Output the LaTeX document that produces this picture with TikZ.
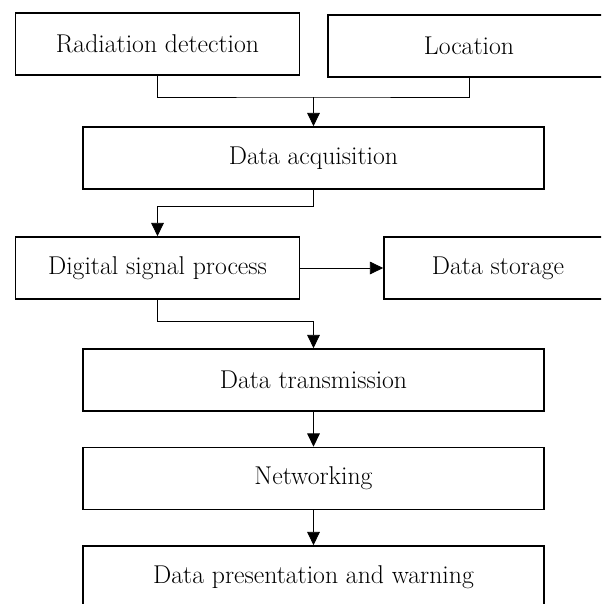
\documentclass[tikz,border=0pt]{standalone}
\usepackage{tikz}
\usetikzlibrary{arrows.meta,positioning}
\tikzset{
  flowbox/.style={
    rectangle, draw=black, line width=1.1pt,
    minimum width=#1, minimum height=1.55cm,
    font=\fontsize{18.3}{21}\selectfont, align=center, inner sep=0pt
  },
  flowbox/.default=7.1cm,
  flowline/.style={line width=0.6pt, color=black},
  flowarrow/.style={
    flowline, -{Triangle[length=9.5pt,width=9pt]}
  },
}

\begin{document}
\begin{tikzpicture}[x=0.025cm, y=-0.025cm]
  \useasboundingbox (0,0) rectangle (601,604);
  \clip (0,0) rectangle (601,604);

  % Sources
  \node[flowbox] (rad) at (157.5,44) {Radiation detection};
  \node[flowbox=7.05cm] (loc) at (469,46) {Location};

  % Main chain
  \node[flowbox=11.525cm] (acq) at (313.5,158) {Data acquisition};
  \node[flowbox] (dsp) at (157.5,268) {Digital signal process};
  \node[flowbox=5.7cm] (store) at (498,268) {Data storage};
  \node[flowbox=11.525cm] (trans) at (313.5,380) {Data transmission};
  \node[flowbox=11.525cm] (net) at (313.5,478.5) {Networking};
  \node[flowbox=11.525cm] (pres) at (313.5,577) {Data presentation and warning};

  % Joints
  \coordinate (join1) at (313.5,97);
  \coordinate (join2) at (157.5,206);
  \coordinate (join3) at (313.5,321);

  % Connectors
  \draw[flowline] (rad.south) |- (join1) -| (loc.south);
  \draw[flowarrow] (join1) -- (acq.north);
  \draw[flowarrow] (acq.south) |- (join2) -- (dsp.north);
  \draw[flowarrow] (dsp.east) -- (store.west);
  \draw[flowarrow] (dsp.south) |- (join3) -- (trans.north);
  \draw[flowarrow] (trans) -- (net);
  \draw[flowarrow] (net) -- (pres);
\end{tikzpicture}
\end{document}
